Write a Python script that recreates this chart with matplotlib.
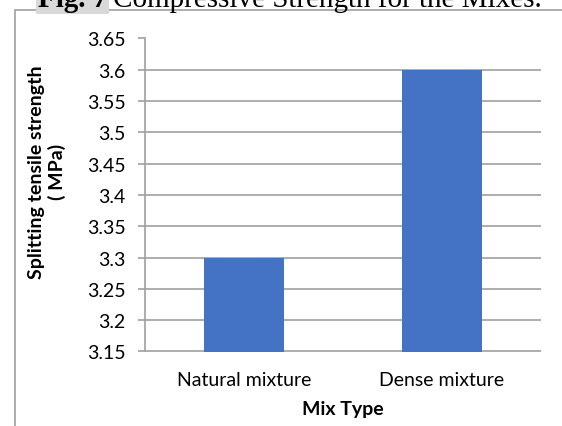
import matplotlib
matplotlib.use('Agg')
import matplotlib.pyplot as plt
from matplotlib.patches import Rectangle

# data
mix_types = ["Natural mixture", "Dense mixture"]
strength = [3.3, 3.6]
yticks = [3.15, 3.2, 3.25, 3.3, 3.35, 3.4, 3.45, 3.5, 3.55, 3.6, 3.65]
ytick_labels = ["3.15", "3.2", "3.25", "3.3", "3.35", "3.4", "3.45", "3.5", "3.55", "3.6", "3.65"]

W, H = 562, 427
plt.rcParams['font.family'] = ['Lato', 'DejaVu Sans']
grey = "#A0A0A0"

fig = plt.figure(figsize=(W / 100, H / 100), dpi=100)

# outer chart frame (runs off the right and bottom of the picture)
fig.patches.append(Rectangle((14.5 / W, -0.1), 1.2, 1.1 - 10.5 / H, transform=fig.transFigure,
                             fill=False, edgecolor=grey, lw=1.2))

# caption from the page, mostly cut off at the top
cap = fig.text(38 / W, 1 - 7 / H, "Fig. 7", family=['Liberation Serif'], fontsize=21,
               fontweight='bold', va='baseline', ha='left',
               bbox=dict(facecolor='#D9D9D9', edgecolor='none', pad=1.5))
fig.canvas.draw()
ext = cap.get_window_extent()
fig.text((ext.x1 + 6) / W, 1 - 7 / H, "Compressive Strength for the Mixes.",
         family=['Liberation Serif'], fontsize=21, va='baseline', ha='left')

ax = fig.add_axes([145 / W, 1 - 352.5 / H, (541 - 145) / W, (352.5 - 39.5) / H])
r = list(range(len(mix_types)))
ax.bar(r, strength, width=0.4, color="#4472C4", zorder=3)

ax.set_xlim(-0.5, len(mix_types) - 0.5)
ax.set_ylim(3.15, 3.65)
ax.set_yticks(yticks)
ax.set_yticklabels(ytick_labels)
ax.set_xticks(r)
ax.set_xticklabels(mix_types)
ax.grid(axis='y', color=grey, lw=1.2, zorder=0)
for s in ['top', 'right', 'bottom']:
    ax.spines[s].set_visible(False)
ax.spines['left'].set_color(grey)
ax.spines['left'].set_linewidth(1.2)
ax.tick_params(axis='y', length=5, color=grey, width=1.2, pad=9, labelsize=14, labelcolor='black')
ax.tick_params(axis='x', length=0, pad=14, labelsize=14)

fig.text(47 / W, 1 - 172 / H, "Splitting tensile strength\n( MPa)", rotation=90,
         ha='center', va='center', multialignment='center', fontsize=14, fontweight='bold',
         linespacing=1.25)
fig.text(343 / W, 1 - 410 / H, "Mix Type", ha='center', va='center', fontsize=14, fontweight='bold')

plt.savefig("out.png", dpi=100)
